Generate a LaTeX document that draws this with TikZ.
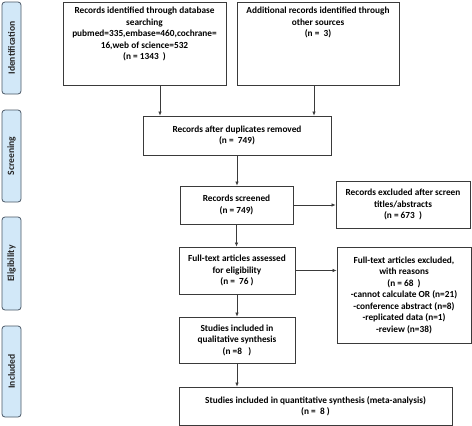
\documentclass[tikz,border=0pt]{standalone}
\usepackage{fontspec}
\setmainfont{Carlito}
\usepackage{xcolor}
\usetikzlibrary{arrows.meta}
\definecolor{phasefill}{HTML}{D2E8F8}
\definecolor{phaseline}{HTML}{4A5866}
\definecolor{boxline}{HTML}{3A3A3A}

\begin{document}
\begin{tikzpicture}[x=1pt,y=1pt,
    font=\fontsize{9.3}{11.5}\selectfont\bfseries,
    box/.style={draw=boxline, line width=0.8pt, align=center, inner sep=2pt},
    phase/.style={draw=phaseline, fill=phasefill, line width=0.8pt, rounded corners=3pt,
        minimum width=19pt, inner sep=0pt, text=black!85, font=\fontsize{9.6}{10}\selectfont\bfseries},
    arr/.style={-{Latex[length=4pt,width=3.5pt]}, draw=boxline, line width=0.7pt}]
            \useasboundingbox (0,0) rectangle (472,-426);
            % phases
            \node[phase, minimum height=92pt] (pid) at (11.5,-48) {\rotatebox{90}{Identification}};
            \node[phase, minimum height=92pt] (pscr) at (11.5,-156) {\rotatebox{90}{Screening}};
            \node[phase, minimum height=93pt] (pelig) at (11.5,-263.5) {\rotatebox{90}{Eligibility}};
            \node[phase, minimum height=91pt] (pincl) at (11.5,-371.5) {\rotatebox{90}{Included}};
            % boxes
            \node[box, inner sep=0pt, minimum width=163pt, minimum height=83pt] (db) at (144.5,-43.5)
                {\parbox[c][83pt][t]{160pt}{\centering\vspace*{5pt}Records identified through database\\searching\\pubmed=335,embase=460,cochrane=\\16,web of science=532\\(n = 1343 \ )}};
            \node[box, inner sep=0pt, minimum width=162pt, minimum height=83pt] (other) at (318,-43.5)
                {\parbox[c][83pt][t]{158pt}{\centering\vspace*{5pt}Additional records identified through\\other sources\\(n = \ 3)}};
            \node[box, minimum width=188pt, minimum height=39pt] (dup) at (237,-135.5)
                {Records after duplicates removed\\(n = \ 749)};
            \node[box, minimum width=113pt, minimum height=38pt] (scr) at (236.5,-205)
                {Records screened\\(n = 749)};
            \node[box, minimum width=134pt, minimum height=47pt] (excl) at (403,-204.5)
                {Records excluded after screen\\titles/abstracts\\(n = 673 \ )};
            \node[box, minimum width=116pt, minimum height=47pt] (full) at (237,-270.5)
                {Full-text articles assessed\\for eligibility\\(n = \ 76 )};
            \node[box, minimum width=134pt, minimum height=96pt] (fullex) at (404,-295)
                {Full-text articles excluded,\\with reasons\\(n = 68 \ )\\-cannot calculate OR (n=21)\\-conference abstract (n=8)\\-replicated data (n=1)\\-review (n=38)};
            \node[box, minimum width=116pt, minimum height=46pt] (qual) at (237,-340)
                {Studies included in\\qualitative synthesis\\(n =8 \ \ )};
            \node[box, minimum width=273pt, minimum height=38pt] (quant) at (315.5,-406)
                {Studies included in quantitative synthesis (meta-analysis)\\(n = \ 8 )};
            % arrows
            \coordinate (dbout) at (160,-85);
            \coordinate (otherout) at (314,-85);
            \draw[arr] (dbout) -- (dbout |- dup.north);
            \draw[arr] (otherout) -- (otherout |- dup.north);
            \draw[arr] (dup.south) -- (dup.south |- scr.north);
            \draw[arr] (scr.east) -- (scr.east -| excl.west);
            \draw[arr] (scr.south) -- (scr.south |- full.north);
            \draw[arr] (full.east) -- (full.east -| fullex.west);
            \draw[arr] (full.south) -- (qual.north);
            \draw[arr] (qual.south) -- (qual.south |- quant.north);
        \end{tikzpicture}
\end{document}
